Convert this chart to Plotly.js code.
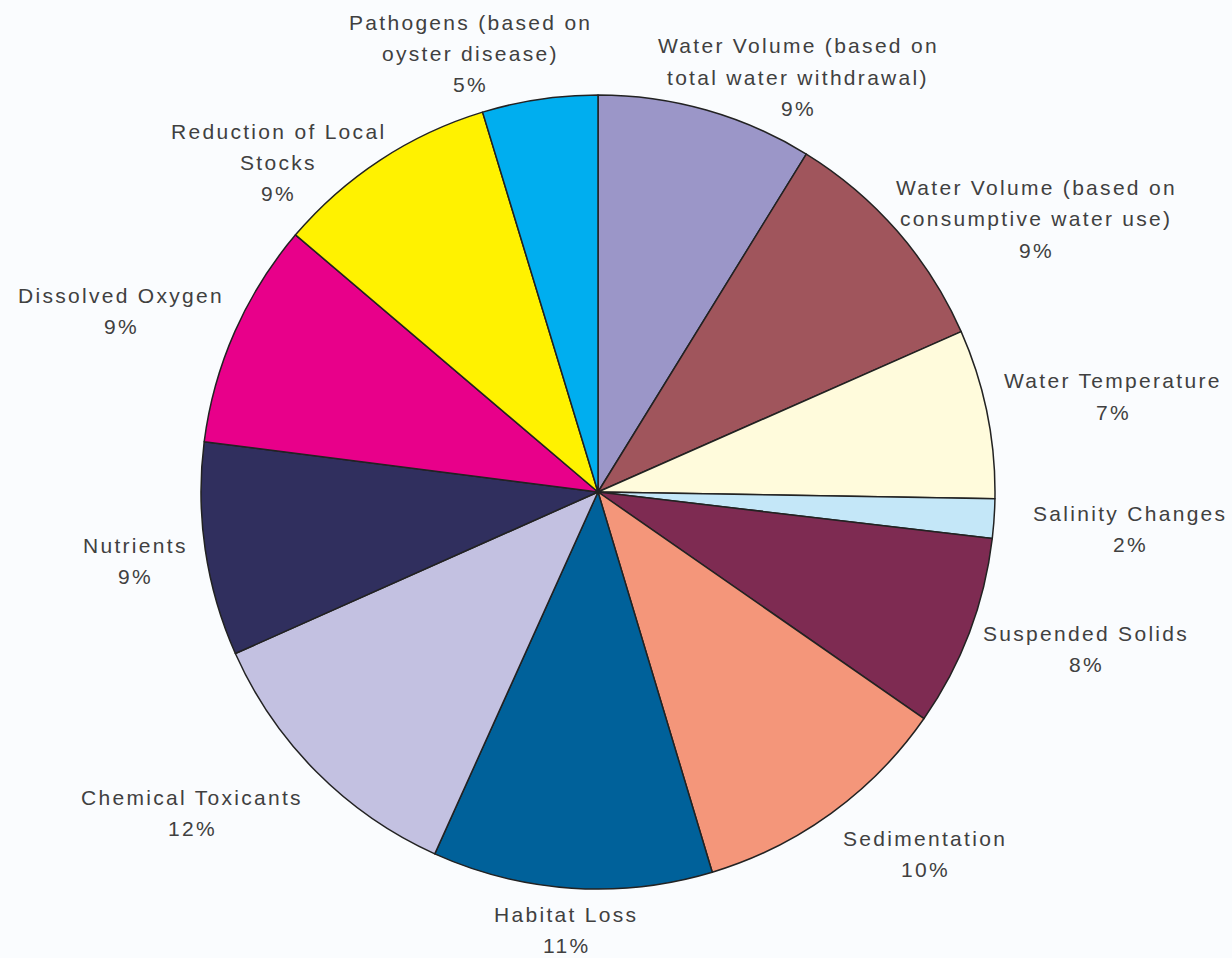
<!DOCTYPE html>
<html>
<head>
<meta charset="utf-8">
<script src="https://cdn.plot.ly/plotly-3.0.1.min.js"></script>
<style>
  html, body { margin: 0; padding: 0; background: #fafcfe; }
  #chart { width: 1232px; height: 958px; }
  .annotation-text { letter-spacing: 2.3px; }
</style>
</head>
<body>
<div id="chart"></div>
<script>
// ---- data ----
const categories = [
  'Water Volume (based on<br>total water withdrawal)',
  'Water Volume (based on<br>consumptive water use)',
  'Water Temperature',
  'Salinity Changes',
  'Suspended Solids',
  'Sedimentation',
  'Habitat Loss',
  'Chemical Toxicants',
  'Nutrients',
  'Dissolved Oxygen',
  'Reduction of Local<br>Stocks',
  'Pathogens (based on<br>oyster disease)'
];
const shares = [8.8, 9.6, 6.9, 1.6, 7.8, 10.7, 11.4, 11.6, 8.7, 9.2, 9.1, 4.7];
// percentages as printed on the chart
const pctLabels = ['9%', '9%', '7%', '2%', '8%', '10%', '11%', '12%', '9%', '9%', '9%', '5%'];

// ---- styling ----
const colors = ['#9b96c8', '#a0555c', '#fffbdc', '#c4e7f8', '#7e2b52', '#f4967a',
                '#00619a', '#c3c1e1', '#302f5e', '#e8008a', '#fff200', '#00aeef'];
// label block centres (pixels: x, top line y)
const labelPos = [
  [798, 46], [1036, 187], [1113, 381], [1130, 513], [1086, 633], [925, 838],
  [566, 914], [192, 797], [135, 545], [121, 295], [278, 131], [470, 22]
];

const W = 1232, H = 958;
const cx = 598, cy = 492, R = 397;
const lineGap = 31.5;

const annotations = [];
categories.forEach((c, i) => {
  const lines = c.split('<br>').concat([pctLabels[i]]);
  lines.forEach((ln, j) => {
    annotations.push({
      text: ln,
      x: labelPos[i][0] / W,
      y: 1 - (labelPos[i][1] + j * lineGap) / H,
      xref: 'paper', yref: 'paper',
      xanchor: 'center', yanchor: 'middle',
      showarrow: false,
      font: { family: 'Liberation Sans, Arial, sans-serif', size: 21, color: '#404040' }
    });
  });
});

const trace = {
  type: 'pie',
  labels: categories,
  values: shares,
  sort: false,
  direction: 'clockwise',
  rotation: 0,
  textinfo: 'none',
  hoverinfo: 'label+percent',
  marker: { colors: colors, line: { color: '#222222', width: 1.5 } },
  domain: {
    x: [(cx - R) / W, (cx + R) / W],
    y: [1 - (cy + R) / H, 1 - (cy - R) / H]
  },
  showlegend: false
};

const layout = {
  width: W, height: H,
  margin: { l: 0, r: 0, t: 0, b: 0 },
  paper_bgcolor: '#fafcfe',
  plot_bgcolor: '#fafcfe',
  showlegend: false,
  annotations: annotations
};

Plotly.newPlot('chart', [trace], layout, { displayModeBar: false, staticPlot: true });
</script>
</body>
</html>
